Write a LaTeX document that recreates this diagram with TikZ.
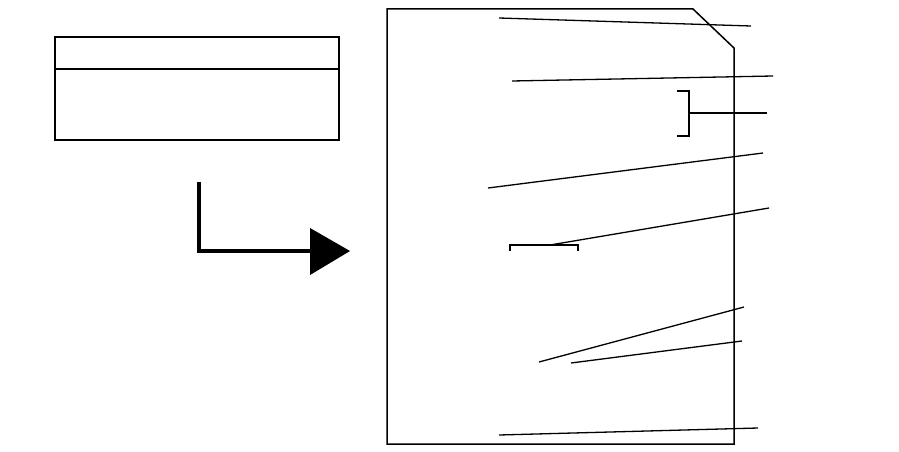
\documentclass[tikz,border=0pt]{standalone}
\begin{document}
\begin{tikzpicture}[x=1pt,y=-1pt,
  frame/.style={draw=black,line width=1.5pt},
  leader/.style={draw=black,line width=1.3pt},
  bigarrow/.style={draw=black,line width=4.6pt}]
\useasboundingbox (0,0) rectangle (899,452);
% left box
\draw[frame] (55,37) rectangle (339,140);
\draw[black,line width=2pt] (55,69) -- (339,69);
% L-shaped arrow
\draw[bigarrow] (199,182) -- (199,251) -- (312,251);
\fill[black] (310,228) -- (350,251) -- (310,275) -- cycle;
% main sheet
\draw[frame,line join=miter] (387,9) -- (693,9) -- (734,48) -- (734,444) -- (387,444) -- cycle;
% leader lines
\coordinate (a1) at (499,18);  \coordinate (a2) at (751,26);
\draw[leader] (a1) -- (a2);
\coordinate (b1) at (512,81);  \coordinate (b2) at (773,76);
\draw[leader] (b1) -- (b2);
% right bracket
\draw[leader] (677,91) -- (689,91) -- (689,136) -- (677,136);
\coordinate (c1) at (689,113); \coordinate (c2) at (767,113);
\draw[leader] (c1) -- (c2);
\coordinate (d1) at (488,188); \coordinate (d2) at (763,153);
\draw[leader] (d1) -- (d2);
% lower bracket
\draw[leader] (510,251) -- (510,245) -- (578,245) -- (578,251);
\coordinate (e1) at (550,245); \coordinate (e2) at (769,208);
\draw[leader] (e1) -- (e2);
\coordinate (f1) at (539,362); \coordinate (f2) at (744,307);
\draw[leader] (f1) -- (f2);
\coordinate (g1) at (571,363); \coordinate (g2) at (742,341);
\draw[leader] (g1) -- (g2);
\coordinate (h1) at (499,435); \coordinate (h2) at (758,428);
\draw[leader] (h1) -- (h2);
\end{tikzpicture}
\end{document}
